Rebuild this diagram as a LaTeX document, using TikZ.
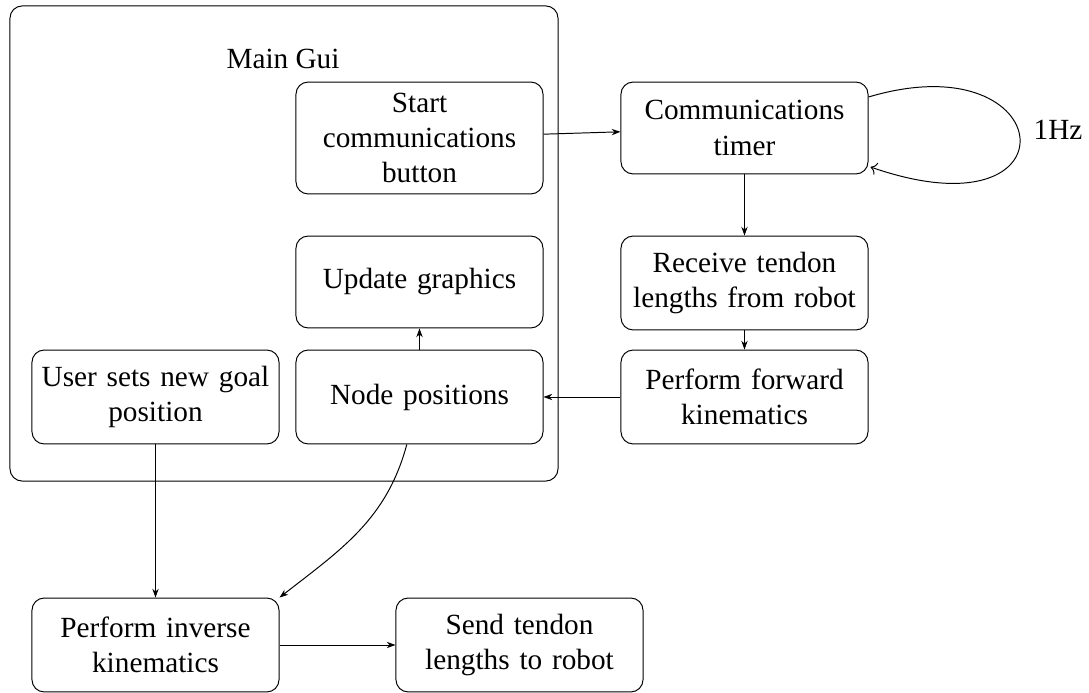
\documentclass[tikz,border=0pt]{standalone}
\usepackage{fontspec}
\setmainfont{Liberation Serif}
\usetikzlibrary{arrows.meta,calc}
\begin{document}
\begin{tikzpicture}[x=0.41pt,y=-0.41pt,
  txt/.style={font=\fontsize{12}{14.5}\selectfont},
  box/.style={txt,draw,rounded corners=5pt,minimum width=101.3pt,text width=97pt,align=center,inner sep=2pt},
  arr/.style={-{Stealth[length=3.6pt,width=2.6pt]}}]
\useasboundingbox (0,0) rectangle (1089,693);
\node[draw,rounded corners=5pt,minimum width=224.7pt,minimum height=194.8pt,inner sep=0pt] (gui) at (284,243.5) {};
\node[txt] (guilabel) at (283,59) {Main Gui};
\node[box,minimum height=45.9pt] (start) at (419.5,138) {Start\\communications\\button};
\node[box,minimum height=37.7pt] (update) at (419.5,282) {Update graphics};
\node[box,minimum height=38.5pt] (nodepos) at (419.5,397) {Node positions};
\node[box,minimum height=38.5pt] (user) at (155.5,397) {User sets new goal\\position};
\node[box,minimum height=37.7pt] (comm) at (744.5,128) {Communications\\timer};
\node[box,minimum height=38.5pt] (receive) at (744.5,283) {Receive tendon\\lengths from robot};
\node[box,minimum height=38.5pt] (forward) at (744.5,397) {Perform forward\\kinematics};
\node[box,minimum height=38.5pt] (inverse) at (155.5,645) {Perform inverse\\kinematics};
\node[box,minimum height=38.5pt] (send) at (519.5,645) {Send tendon\\lengths to robot};
\node[txt] (hz) at (1058,130) {1Hz};
\draw[arr] (start) -- (comm);
\draw[arr] (comm) -- (receive);
\draw[arr] (receive) -- (forward);
\draw[arr] (forward) -- (nodepos);
\draw[arr] (nodepos) -- (update);
\draw[arr] (user) -- (inverse);
\draw[arr] (inverse) -- (send);
\draw[arr] (nodepos) to[out=-105,in=38] (inverse.north east);
\draw[->] ($(comm.east)+(0,-31)$) .. controls (1060,40) and (1080,240) .. ($(comm.east)+(2,39)$);
\end{tikzpicture}
\end{document}
